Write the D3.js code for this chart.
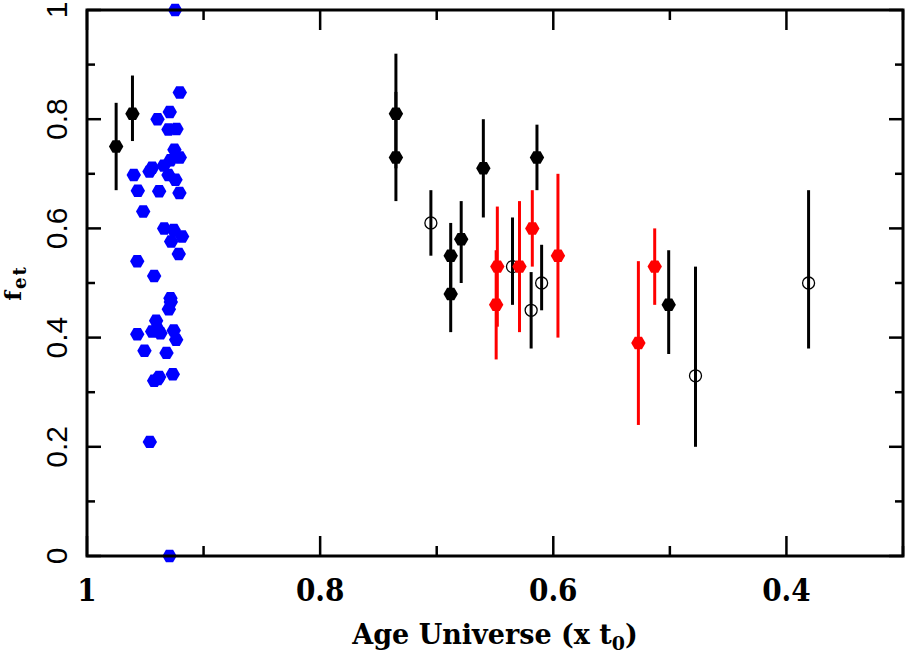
<!DOCTYPE html>
<html>
<head>
<meta charset="utf-8">
<script src="https://cdn.jsdelivr.net/npm/d3@7"></script>
<style>
  body { margin: 0; background: #fff; }
</style>
</head>
<body>
<div id="chart"></div>
<script>
// Blue sample (no error bars)
const blueAge = [0.9244, 0.9204, 0.9395, 0.9290, 0.9301, 0.9232, 0.9250, 0.9204, 0.9599, 0.9464,
                 0.9441, 0.9341, 0.9284, 0.9241, 0.9564, 0.9381, 0.9207, 0.9518, 0.9338, 0.9256,
                 0.9184, 0.9278, 0.9213, 0.9569, 0.9424, 0.9284, 0.9281, 0.9298, 0.9407, 0.9569,
                 0.9441, 0.9370, 0.9256, 0.9235, 0.9398, 0.9507, 0.9318, 0.9393, 0.9381, 0.9264,
                 0.9461, 0.9292, 0.9301, 0.9424];
const blueFet = [1.000, 0.849, 0.800, 0.813, 0.781, 0.782, 0.744, 0.730, 0.698, 0.704,
                 0.711, 0.715, 0.725, 0.689, 0.669, 0.668, 0.665, 0.631, 0.600, 0.597,
                 0.585, 0.576, 0.553, 0.540, 0.513, 0.472, 0.465, 0.452, 0.431, 0.406,
                 0.411, 0.408, 0.413, 0.396, 0.417, 0.376, 0.372, 0.324, 0.328, 0.333,
                 0.209, 0.000, 0.698, 0.321];

// Black filled points with error bars
const blackAge = [0.975, 0.961, 0.735, 0.735, 0.660, 0.688, 0.688, 0.679, 0.614, 0.501];
const blackFet = [0.75, 0.81, 0.81, 0.73, 0.71, 0.55, 0.48, 0.58, 0.73, 0.46];
const blackLo  = [0.67, 0.76, 0.71, 0.65, 0.62, 0.49, 0.41, 0.50, 0.67, 0.37];
const blackHi  = [0.83, 0.88, 0.92, 0.85, 0.80, 0.61, 0.55, 0.65, 0.79, 0.56];

// Open circles with error bars
const openAge = [0.705, 0.635, 0.619, 0.610, 0.478, 0.381];
const openFet = [0.61, 0.53, 0.45, 0.50, 0.33, 0.50];
const openLo  = [0.55, 0.46, 0.38, 0.45, 0.20, 0.38];
const openHi  = [0.67, 0.62, 0.52, 0.57, 0.53, 0.67];

// Red filled points with error bars
const redAge = [0.648, 0.649, 0.629, 0.618, 0.596, 0.527, 0.513];
const redFet = [0.53, 0.46, 0.53, 0.60, 0.55, 0.39, 0.53];
const redLo  = [0.42, 0.36, 0.41, 0.53, 0.40, 0.24, 0.46];
const redHi  = [0.64, 0.56, 0.65, 0.67, 0.70, 0.54, 0.60];

const xMajor = [1, 0.8, 0.6, 0.4];
const xMinor = [0.9, 0.7, 0.5, 0.3];
const yMajor = [0, 0.2, 0.4, 0.6, 0.8, 1];
const yMinor = [0.1, 0.3, 0.5, 0.7, 0.9];

const W = 906, H = 664;
const margin = { left: 87, right: 903, top: 10, bottom: 556 };

const svg = d3.select("#chart")
    .append("svg")
    .attr("width", W)
    .attr("height", H)
    .style("background", "#fff");

const x = d3.scaleLinear().domain([1, 0.3]).range([margin.left, margin.right]);
const y = d3.scaleLinear().domain([0, 1]).range([margin.bottom, margin.top]);

// Hexagon symbol, points at left and right
const hexagon = {
    draw(ctx, size) {
        const r = Math.sqrt(size / (1.5 * Math.sqrt(3)));
        for (let i = 0; i < 6; i++) {
            const a = i * Math.PI / 3;
            const px = r * Math.cos(a), py = r * Math.sin(a);
            if (i === 0) ctx.moveTo(px, py); else ctx.lineTo(px, py);
        }
        ctx.closePath();
    }
};
const hexPath = d3.symbol().type(hexagon).size(1.5 * Math.sqrt(3) * 7.2 * 7.2)();

// Blue points
svg.append("g").selectAll("path")
    .data(blueAge.map((a, i) => [a, blueFet[i]]))
    .enter()
    .append("path")
    .attr("d", hexPath)
    .attr("transform", d => `translate(${x(d[0])},${y(d[1])})`)
    .attr("fill", "#0000ff");

function drawSeries(ages, fets, lo, hi, color, open) {
    const g = svg.append("g");
    const rows = ages.map((a, i) => ({ a, f: fets[i], lo: lo[i], hi: hi[i] }));
    g.selectAll("line")
        .data(rows)
        .enter()
        .append("line")
        .attr("x1", d => x(d.a))
        .attr("x2", d => x(d.a))
        .attr("y1", d => y(d.lo))
        .attr("y2", d => y(d.hi))
        .attr("stroke", color)
        .attr("stroke-width", 3);
    if (open) {
        g.selectAll("circle")
            .data(rows)
            .enter()
            .append("circle")
            .attr("cx", d => x(d.a))
            .attr("cy", d => y(d.f))
            .attr("r", 6)
            .attr("fill", "none")
            .attr("stroke", color)
            .attr("stroke-width", 1.3);
    } else {
        g.selectAll("path")
            .data(rows)
            .enter()
            .append("path")
            .attr("d", hexPath)
            .attr("transform", d => `translate(${x(d.a)},${y(d.f)})`)
            .attr("fill", color);
    }
}

drawSeries(blackAge, blackFet, blackLo, blackHi, "#000", false);
drawSeries(openAge, openFet, openLo, openHi, "#000", true);
drawSeries(redAge, redFet, redLo, redHi, "#ff0000", false);

// Frame
svg.append("rect")
    .attr("x", margin.left)
    .attr("y", margin.top)
    .attr("width", margin.right - margin.left)
    .attr("height", margin.bottom - margin.top)
    .attr("fill", "none")
    .attr("stroke", "#000")
    .attr("stroke-width", 3);

// Ticks on all four sides, pointing inward
const ticks = svg.append("g").attr("stroke", "#000").attr("stroke-width", 2.5);
xMajor.concat(xMinor).forEach(v => {
    const len = xMajor.includes(v) ? 20 : 10;
    ticks.append("line").attr("x1", x(v)).attr("x2", x(v)).attr("y1", margin.bottom).attr("y2", margin.bottom - len);
    ticks.append("line").attr("x1", x(v)).attr("x2", x(v)).attr("y1", margin.top).attr("y2", margin.top + len);
});
yMajor.concat(yMinor).forEach(v => {
    const len = yMajor.includes(v) ? 14 : 8;
    ticks.append("line").attr("x1", margin.left).attr("x2", margin.left + len).attr("y1", y(v)).attr("y2", y(v));
    ticks.append("line").attr("x1", margin.right).attr("x2", margin.right - len).attr("y1", y(v)).attr("y2", y(v));
});

// X tick labels
svg.append("g").selectAll("text")
    .data(xMajor)
    .enter()
    .append("text")
    .attr("x", d => x(d))
    .attr("y", 601)
    .attr("text-anchor", "middle")
    .style("font-family", "'DejaVu Serif Condensed', 'DejaVu Serif', serif")
    .style("font-weight", "bold")
    .style("font-size", "31px")
    .text(d => d);

// Y tick labels (rotated)
svg.append("g").selectAll("text")
    .data(yMajor)
    .enter()
    .append("text")
    .attr("transform", d => `translate(67,${y(d)}) rotate(-90)`)
    .attr("text-anchor", "middle")
    .style("font-family", "'Liberation Sans', Arial, sans-serif")
    .style("font-size", "30px")
    .text(d => d);

// X axis title
const xl = svg.append("text")
    .attr("x", (margin.left + margin.right) / 2)
    .attr("y", 644)
    .attr("text-anchor", "middle")
    .style("font-family", "'DejaVu Serif', serif")
    .style("font-weight", "bold")
    .style("font-size", "27px");
xl.append("tspan").text("Age Universe (x t");
xl.append("tspan").attr("dy", 6).style("font-size", "19px").text("0");
xl.append("tspan").attr("dy", -6).text(")");

// Y axis title
const yl = svg.append("text")
    .attr("transform", `translate(21,${(margin.top + margin.bottom) / 2}) rotate(-90)`)
    .attr("text-anchor", "middle")
    .style("font-family", "'DejaVu Serif', serif")
    .style("font-weight", "bold")
    .style("font-size", "23px")
    .style("letter-spacing", "2px");
yl.append("tspan").text("f");
yl.append("tspan").attr("dy", 5).style("font-size", "18px").text("et");
</script>
</body>
</html>
